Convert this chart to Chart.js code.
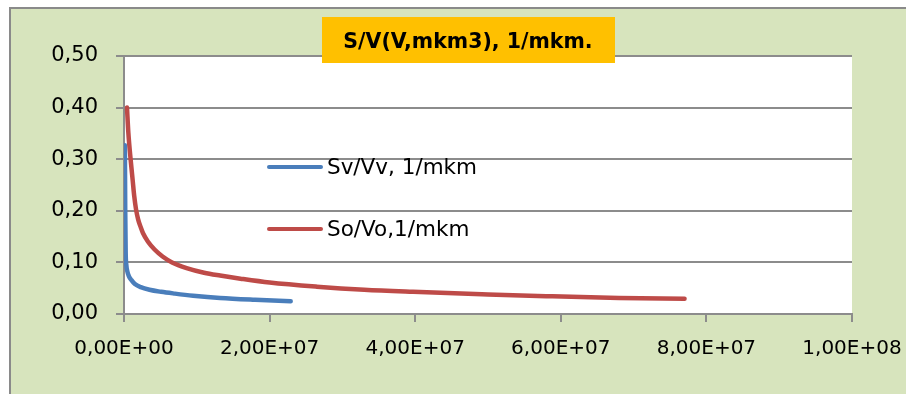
<!DOCTYPE html>
<html>
<head>
<meta charset="utf-8">
<script src="https://cdn.jsdelivr.net/npm/chart.js@4"></script>
<style>
  html, body { margin: 0; padding: 0; background: #ffffff; }
  #wrap { position: relative; width: 906px; height: 394px; }
</style>
</head>
<body>
<div id="wrap"><canvas id="svChart" width="906" height="394"></canvas></div>
<script>
// values
const svV = [1.2e5, 1.7e5, 2.3e5, 3.2e5, 4.5e5, 6.5e5, 1e6, 1.5e6, 2.3e6, 3.5e6, 5.1e6, 7e6, 9.5e6, 1.32e7, 1.8e7, 2.29e7];
const svY = [0.327, 0.2, 0.12, 0.095, 0.083, 0.074, 0.066, 0.058, 0.052, 0.047, 0.043, 0.0395, 0.0355, 0.031, 0.0275, 0.0248];

const soV = [4.1e5, 6e5, 9.2e5, 1.2e6, 1.4e6, 1.65e6, 1.95e6, 2.3e6, 2.6e6, 3.3e6, 4.2e6, 5.3e6, 6.6e6, 8.6e6, 1.1e7, 1.32e7, 1.6e7, 2e7, 2.65e7, 3.3e7, 3.97e7, 5e7, 5.8e7, 6.8e7, 7.7e7];
const soY = [0.4, 0.351, 0.298, 0.258, 0.229, 0.203, 0.183, 0.168, 0.157, 0.14, 0.125, 0.1115, 0.1, 0.089, 0.08, 0.0745, 0.0685, 0.061, 0.053, 0.047, 0.043, 0.038, 0.0345, 0.031, 0.0297];

const seriesNames = ["Sv/Vv, 1/mkm", "So/Vo,1/mkm"];
const chartTitle = "S/V(V,mkm3), 1/mkm.";

const xTicks = { min: 0, max: 1e8, step: 2e7 };
const yTicks = { min: 0, max: 0.5, step: 0.1 };

const BLUE = "#4a7ebb";
const RED = "#be4b48";
const GREEN_BG = "#d7e4bd";
const FRAME = "#8a8a8a";
const GRID = "#8c8c8c";
const FONT = "'DejaVu Sans', sans-serif";

function toPoints(xs, ys) {
  var pts = [];
  for (let i = 0; i < xs.length; i++) {
    pts.push({ x: xs[i], y: ys[i] });
  }
  return pts;
}

function fmtExp(value) {
  // 2e7 -> "2,00E+07"
  var parts = Number(value).toExponential(2).split("e");
  var mant = parts[0].replace(".", ",");
  var exp = parseInt(parts[1], 10);
  var sign = exp < 0 ? "-" : "+";
  var digits = String(Math.abs(exp)).padStart(2, "0");
  return mant + "E" + sign + digits;
}

//============================
// Plugins
//============================

const backgroundPlugin = {
  id: "panelBackground",
  beforeDraw(chart) {
    const ctx = chart.ctx;
    const a = chart.chartArea;
    ctx.save();
    ctx.fillStyle = "#ffffff";
    ctx.fillRect(0, 0, chart.width, chart.height);
    ctx.fillStyle = GREEN_BG;
    ctx.fillRect(10, 8, chart.width - 10, chart.height - 8);
    ctx.strokeStyle = FRAME;
    ctx.lineWidth = 2;
    ctx.beginPath();
    ctx.moveTo(10, chart.height);
    ctx.lineTo(10, 8);
    ctx.lineTo(chart.width, 8);
    ctx.stroke();
    ctx.fillStyle = "#ffffff";
    ctx.fillRect(a.left, a.top, a.right - a.left, a.bottom - a.top);
    ctx.restore();
  },
};

const overlayPlugin = {
  id: "titleAndLegend",
  afterDraw(chart) {
    const ctx = chart.ctx;
    const a = chart.chartArea;
    ctx.save();

    // legend inside the plot
    const lx = a.left + 145;
    const rows = [a.top + 111, a.top + 173];
    chart.data.datasets.forEach(function (ds, i) {
      ctx.strokeStyle = ds.borderColor;
      ctx.lineWidth = 4;
      ctx.lineCap = "round";
      ctx.beginPath();
      ctx.moveTo(lx, rows[i]);
      ctx.lineTo(lx + 52, rows[i]);
      ctx.stroke();
      ctx.fillStyle = "#000000";
      ctx.font = "21.5px " + FONT;
      ctx.textAlign = "left";
      ctx.textBaseline = "middle";
      ctx.fillText(ds.label, lx + 58, rows[i] + 1);
    });

    // title box
    ctx.fillStyle = "#ffc000";
    ctx.fillRect(322, 17, 293, 46);
    ctx.fillStyle = "#000000";
    ctx.font = "bold 20.5px " + FONT;
    ctx.textAlign = "center";
    ctx.textBaseline = "middle";
    ctx.fillText(chartTitle, 468, 43);

    ctx.restore();
  },
};

//============================
// Chart
//============================

const ctx = document.getElementById("svChart");

var data = {
  datasets: [
    {
      label: seriesNames[0],
      data: toPoints(svV, svY),
      borderColor: BLUE,
      backgroundColor: BLUE,
    },
    {
      label: seriesNames[1],
      data: toPoints(soV, soY),
      borderColor: RED,
      backgroundColor: RED,
    },
  ],
};

data.datasets.forEach(function (ds) {
  ds.showLine = true;
  ds.borderWidth = 4.5;
  ds.pointRadius = 0;
  ds.pointHoverRadius = 0;
  ds.cubicInterpolationMode = "monotone";
  ds.borderCapStyle = "round";
  ds.borderJoinStyle = "round";
});

var config = {
  type: "scatter",
  data: data,
  options: {
    responsive: false,
    animation: false,
    layout: {
      autoPadding: false,
      padding: { left: 0, top: 56, right: 54, bottom: 0 },
    },
    plugins: {
      legend: { display: false },
      title: { display: false },
      tooltip: { enabled: false },
    },
    scales: {
      x: {
        type: "linear",
        min: xTicks.min,
        max: xTicks.max,
        afterFit(scale) {
          scale.height = 80;
          scale.paddingLeft = 0;
          scale.paddingRight = 0;
        },
        ticks: {
          stepSize: xTicks.step,
          maxRotation: 0,
          autoSkip: false,
          padding: 15,
          color: "#000000",
          font: { family: FONT, size: 20 },
          callback: function (v) {
            return fmtExp(v);
          },
        },
        grid: {
          drawOnChartArea: false,
          drawTicks: true,
          tickLength: 8,
          color: GRID,
          lineWidth: 2,
        },
        border: { color: GRID, width: 2 },
      },
      y: {
        min: yTicks.min,
        max: yTicks.max,
        afterFit(scale) {
          scale.width = 124;
          scale.paddingTop = 0;
          scale.paddingBottom = 0;
        },
        ticks: {
          stepSize: yTicks.step,
          padding: 18,
          color: "#000000",
          font: { family: FONT, size: 21 },
          callback: function (v) {
            return v.toFixed(2).replace(".", ",");
          },
        },
        grid: {
          drawTicks: true,
          tickLength: 8,
          color: GRID,
          lineWidth: 2,
        },
        border: { color: GRID, width: 2 },
      },
    },
  },
  plugins: [backgroundPlugin, overlayPlugin],
};

var svChart = new Chart(ctx, config);
</script>
</body>
</html>
